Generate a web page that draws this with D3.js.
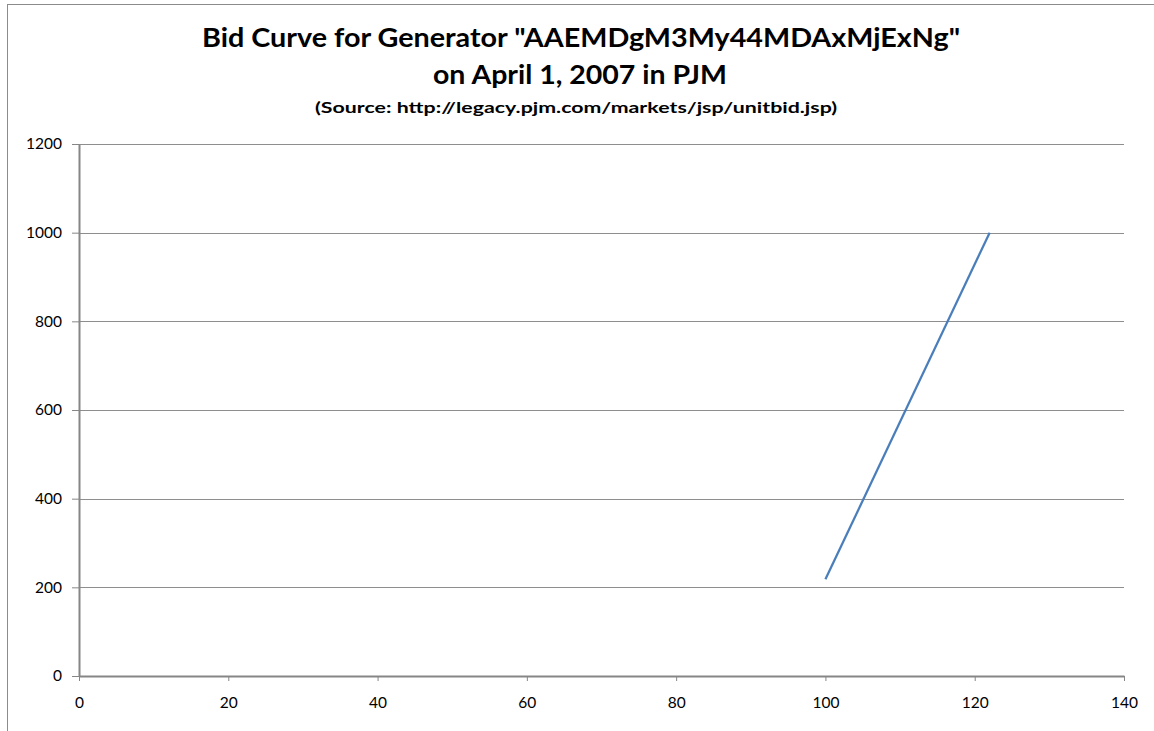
<!DOCTYPE html>
<html>
<head>
<meta charset="utf-8">
<script src="https://cdn.jsdelivr.net/npm/d3@7"></script>
<style>
  body { margin: 0; background: #fff; }
  svg { display: block; }
</style>
</head>
<body>
<svg id="chart"></svg>
<script>
// Bid curve points (MW, $/MWh)
const mw = [100, 122];
const price = [218, 1000];
const xTicks = [0, 20, 40, 60, 80, 100, 120, 140];
const yTicks = [0, 200, 400, 600, 800, 1000, 1200];

const titleLines = ['Bid Curve for Generator "AAEMDgM3My44MDAxMjExNg"', 'on April 1, 2007 in PJM'];
const subtitle = '(Source: http://legacy.pjm.com/markets/jsp/unitbid.jsp)';

const W = 1154, H = 731;
const margin = { top: 144, right: 30, bottom: 55, left: 79 };

const svg = d3.select('#chart').attr('width', W).attr('height', H);

// chart frame (cut off at right/bottom like the original)
svg.append('rect')
  .attr('x', 7.5).attr('y', 4.5)
  .attr('width', W + 20).attr('height', H + 20)
  .attr('fill', 'none')
  .attr('stroke', '#8c8c8c')
  .attr('stroke-width', 1);

const font = 'Lato, "Open Sans", sans-serif';

// titles
svg.append('text')
  .attr('x', 581).attr('y', 47)
  .attr('text-anchor', 'middle')
  .attr('textLength', 758).attr('lengthAdjust', 'spacingAndGlyphs')
  .style('font-family', font).style('font-weight', 'bold').style('font-size', '26px')
  .style('fill', '#000')
  .text(titleLines[0]);

svg.append('text')
  .attr('x', 580).attr('y', 84)
  .attr('text-anchor', 'middle')
  .attr('textLength', 294).attr('lengthAdjust', 'spacingAndGlyphs')
  .style('font-family', font).style('font-weight', 'bold').style('font-size', '26px')
  .style('fill', '#000')
  .text(titleLines[1]);

svg.append('text')
  .attr('x', 576).attr('y', 113)
  .attr('text-anchor', 'middle')
  .attr('textLength', 522).attr('lengthAdjust', 'spacingAndGlyphs')
  .style('font-family', font).style('font-weight', 'bold').style('font-size', '16px')
  .style('fill', '#000')
  .text(subtitle);

const g = svg.append('g')
  .attr('transform', `translate(${margin.left},${margin.top})`);

const x = d3.scaleLinear().domain([0, 140]).range([0, 1124 - margin.left]);
const y = d3.scaleLinear().domain([0, 1200]).range([676 - margin.top, 0]);

// horizontal gridlines
g.append('g')
  .selectAll('line')
  .data(yTicks.filter(d => d > 0))
  .enter()
  .append('line')
  .attr('x1', 0).attr('x2', x(140))
  .attr('y1', d => Math.round(y(d)) + 0.5)
  .attr('y2', d => Math.round(y(d)) + 0.5)
  .attr('stroke', '#8e8e8e')
  .attr('stroke-width', 1);

// axes
const xAxis = g.append('g')
  .attr('transform', `translate(0,${y(0)})`)
  .call(d3.axisBottom(x).tickValues(xTicks).tickSize(5).tickSizeOuter(0).tickPadding(16).tickFormat(d3.format('d')));

const yAxis = g.append('g')
  .call(d3.axisLeft(y).tickValues(yTicks).tickSize(7).tickSizeOuter(0).tickPadding(10).tickFormat(d3.format('d')));

[xAxis, yAxis].forEach(ax => {
  ax.select('.domain').attr('stroke', '#868686').attr('stroke-width', 2);
  ax.selectAll('.tick line').attr('stroke', '#868686').attr('stroke-width', 1);
  ax.selectAll('.tick text')
    .style('font-family', font)
    .style('font-size', '15.5px')
    .style('fill', '#000');
});

// bid curve
const line = d3.line()
  .x((d, i) => x(mw[i]))
  .y(d => y(d));

g.append('path')
  .datum(price)
  .attr('d', line)
  .attr('fill', 'none')
  .attr('stroke', '#4a7ebb')
  .attr('stroke-width', 2.25);
</script>
</body>
</html>
